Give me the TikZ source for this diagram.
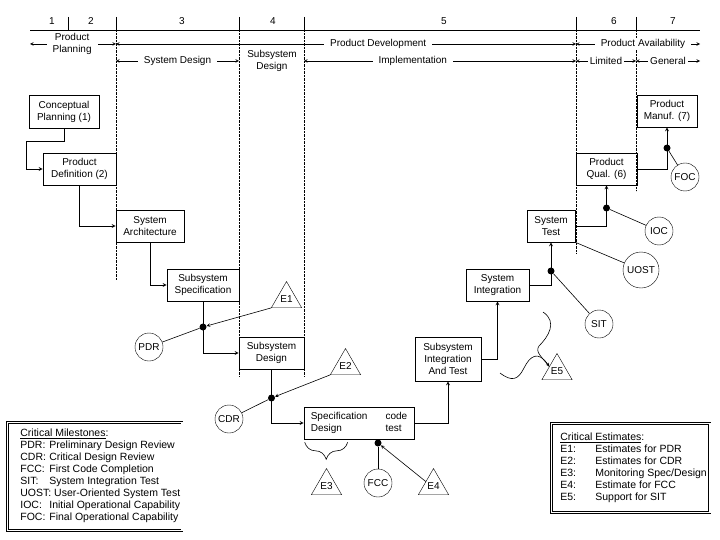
\documentclass[tikz,border=0pt]{standalone}
\usepackage{fontspec}
\setmainfont{Liberation Sans}
\usetikzlibrary{shapes,arrows,positioning,decorations.pathreplacing}

\begin{document}
\begin{tikzpicture}[
    x=1pt, y=-1pt,
    font=\fontsize{10}{12}\selectfont,
    stage/.style={rectangle, draw, semithick, minimum height=32, inner sep=1pt, align=center},
    milestone/.style={circle, draw, inner sep=0pt, minimum size=28},
    estimate/.style={regular polygon, regular polygon sides=3, draw, inner sep=0pt, minimum size=35},
    dot/.style={circle, fill, inner sep=0pt, minimum size=7},
    arrow/.style={thick,->,>=stealth},
    pointer/.style={semithick,->,>=stealth},
    link/.style={semithick},
    span/.style={semithick,<->,>=stealth},
    spanlabel/.style={fill=white, inner xsep=6pt, inner ysep=1pt, align=center},
    legend/.style={draw=black, line width=0.7pt, double=white, double distance=1.4pt, anchor=north west, inner sep=0pt, font=\fontsize{10.5}{12}\selectfont}
]
    \useasboundingbox (0,0) rectangle (720,540);

    \foreach \x/\n in {52/1,91/2,182/3,273/4,444/5,614/6,673/7}
        \node (num\n) at (\x,21) {\n};
    \draw[semithick] (30,30) -- (700,30);
    \foreach \x in {68,116,239,304,576,636}
        \draw[semithick] (\x,17) -- (\x,30);
    \foreach \x/\y in {116/280,239/377,304/377,576/253,636/191}
        \draw[densely dotted] (\x,30) -- (\x,\y);

    \draw[span] (30,44) -- node[spanlabel, pos=.49] (pplan) {Product\\Planning} (116,44);
    \draw[span] (116,44) -- node[spanlabel, pos=.57] (pdev) {Product Development} (576,44);
    \draw[span] (576,44) -- node[spanlabel, pos=.54] (pavail) {Product Availability} (700,44);
    \draw[span] (116,61) -- node[spanlabel] (sysdes) {System Design} (239,61);
    \node[align=center] (subdes) at (272,61) {Subsystem\\Design};
    \draw[span] (304,61) -- node[spanlabel, pos=.40] (impl) {Implementation} (576,61);
    \draw[span] (576,61) -- node[spanlabel, inner xsep=2pt] (limited) {Limited} (636,61);
    \draw[span] (636,61) -- node[spanlabel, inner xsep=2pt] (general) {General} (700,61);

    \node[stage, minimum width=70, minimum height=33] (cp) at (64,111.5) {Conceptual\\Planning (1)};
    \node[stage, minimum width=73] (pd) at (79.5,169) {Product\\Definition (2)};
    \node[stage, minimum width=68] (sa) at (150,226) {System\\Architecture};
    \node[stage, minimum width=72] (ss) at (203,285) {Subsystem\\Specification};
    \node[stage, minimum width=65] (sd) at (271.5,353) {Subsystem\\Design};
    \node[stage, minimum width=110] (spec) at (359,423)
        {\begin{tabular}{@{}l@{\hspace{18pt}}l@{}}Specification & code\\ Design & test\end{tabular}};
    \node[stage, minimum width=66, minimum height=44] (siat) at (448,359) {Subsystem\\Integration\\And Test};
    \node[stage, minimum width=63] (si) at (497.5,285) {System\\Integration};
    \node[stage, minimum width=48] (st) at (551,226) {System\\Test};
    \node[stage, minimum width=61] (pq) at (606.5,169) {Product\\Qual. (6)};
    \node[stage, minimum width=60] (pm) at (667,111) {Product\\Manuf. (7)};

    \node[dot] (d1) at (203,327) {};
    \node[dot] (d2) at (271.5,398) {};
    \node[dot] (d3) at (378,443) {};
    \node[dot] (d4) at (551,271) {};
    \node[dot] (d5) at (606.5,208) {};
    \node[dot] (d6) at (667,148) {};

    \node[milestone] (pdr) at (149,347) {PDR};
    \node[milestone] (cdr) at (229,419) {CDR};
    \node[milestone] (fcc) at (378,483) {FCC};
    \node[milestone] (sit) at (599,324) {SIT};
    \node[milestone, minimum size=36] (uost) at (641,270) {UOST};
    \node[milestone] (ioc) at (659,231) {IOC};
    \node[milestone] (foc) at (685,177) {FOC};

    \node[estimate] (e1) at (286.5,299) {E1};
    \node[estimate] (e2) at (345.5,366) {E2};
    \node[estimate] (e3) at (326.5,486) {E3};
    \node[estimate] (e4) at (433.5,486) {E4};
    \node[estimate] (e5) at (557,371) {E5};

    \draw[arrow] (cp.south) -- ++(0,13) -- ++(-38,0) |- (pd.west);
    \draw[arrow] (pd.south) |- (sa.west);
    \draw[arrow] (sa.south) |- (ss.west);
    \draw[arrow] (ss.south) |- (sd.west);
    \draw[arrow] (sd.south) |- (spec.west);
    \draw[arrow] (spec.east) -| (siat.south);
    \draw[arrow] (siat.east) -| (si.south);
    \draw[arrow] (si.east) -| (st.south);
    \draw[arrow] (st.east) -| (pq.south);
    \draw[arrow] (pq.east) -| (pm.south);

    \draw[link] (pdr) -- (d1);
    \draw[pointer] (e1.corner 2) -- (d1);
    \draw[link] (cdr) -- (d2);
    \draw[pointer] (e2.corner 2) -- (d2);
    \draw[link] (fcc) -- (d3);
    \draw[pointer] (e4.side 1) -- (d3);
    \draw[link] (sit) -- (d4);
    \draw[link] (st.south east) -- (uost);
    \draw[link] (ioc) -- (d5);
    \draw[link] (foc) -- (d6);

    \draw[link, decorate, decoration={brace, mirror, amplitude=17pt}]
        ([xshift=1pt, yshift=-3pt]spec.south west) -- ([xshift=44pt, yshift=-3pt]spec.south west);

    \coordinate (wave1) at (543,312);
    \coordinate (wave2) at (500,373);
    \draw[link] (wave1) .. controls (558,322) and (548,337) .. (539,346)
        .. controls (535,352) and (541,356) .. (e5.side 1);
    \draw[pointer] (wave2) .. controls (512,382) and (518,380) .. (524,368)
        .. controls (530,356) and (538,350) .. (e5.side 1);

    \node[legend, minimum height=108] (miles) at (7,422) {%
        \begin{tabular}{@{\hspace{13pt}}p{29pt}@{}l@{\hspace{2pt}}}
        \multicolumn{2}{@{\hspace{13pt}}l@{}}{\underline{Critical Milestones}:}\\
        PDR: & Preliminary Design Review\\
        CDR: & Critical Design Review\\
        FCC: & First Code Completion\\
        SIT: & System Integration Test\\
        \multicolumn{2}{@{\hspace{13pt}}l@{}}{UOST: User-Oriented System Test}\\
        IOC: & Initial Operational Capability\\
        FOC: & Final Operational Capability
        \end{tabular}};
    \node[legend, minimum height=89] (ests) at (551,423) {%
        \begin{tabular}{@{\hspace{9pt}}p{35pt}@{}l@{\hspace{3pt}}}
        \multicolumn{2}{@{\hspace{9pt}}l@{}}{\underline{Critical Estimates}:}\\
        E1: & Estimates for PDR\\
        E2: & Estimates for CDR\\
        E3: & Monitoring Spec/Design\\
        E4: & Estimate for FCC\\
        E5: & Support for SIT
        \end{tabular}};
\end{tikzpicture}
\end{document}
